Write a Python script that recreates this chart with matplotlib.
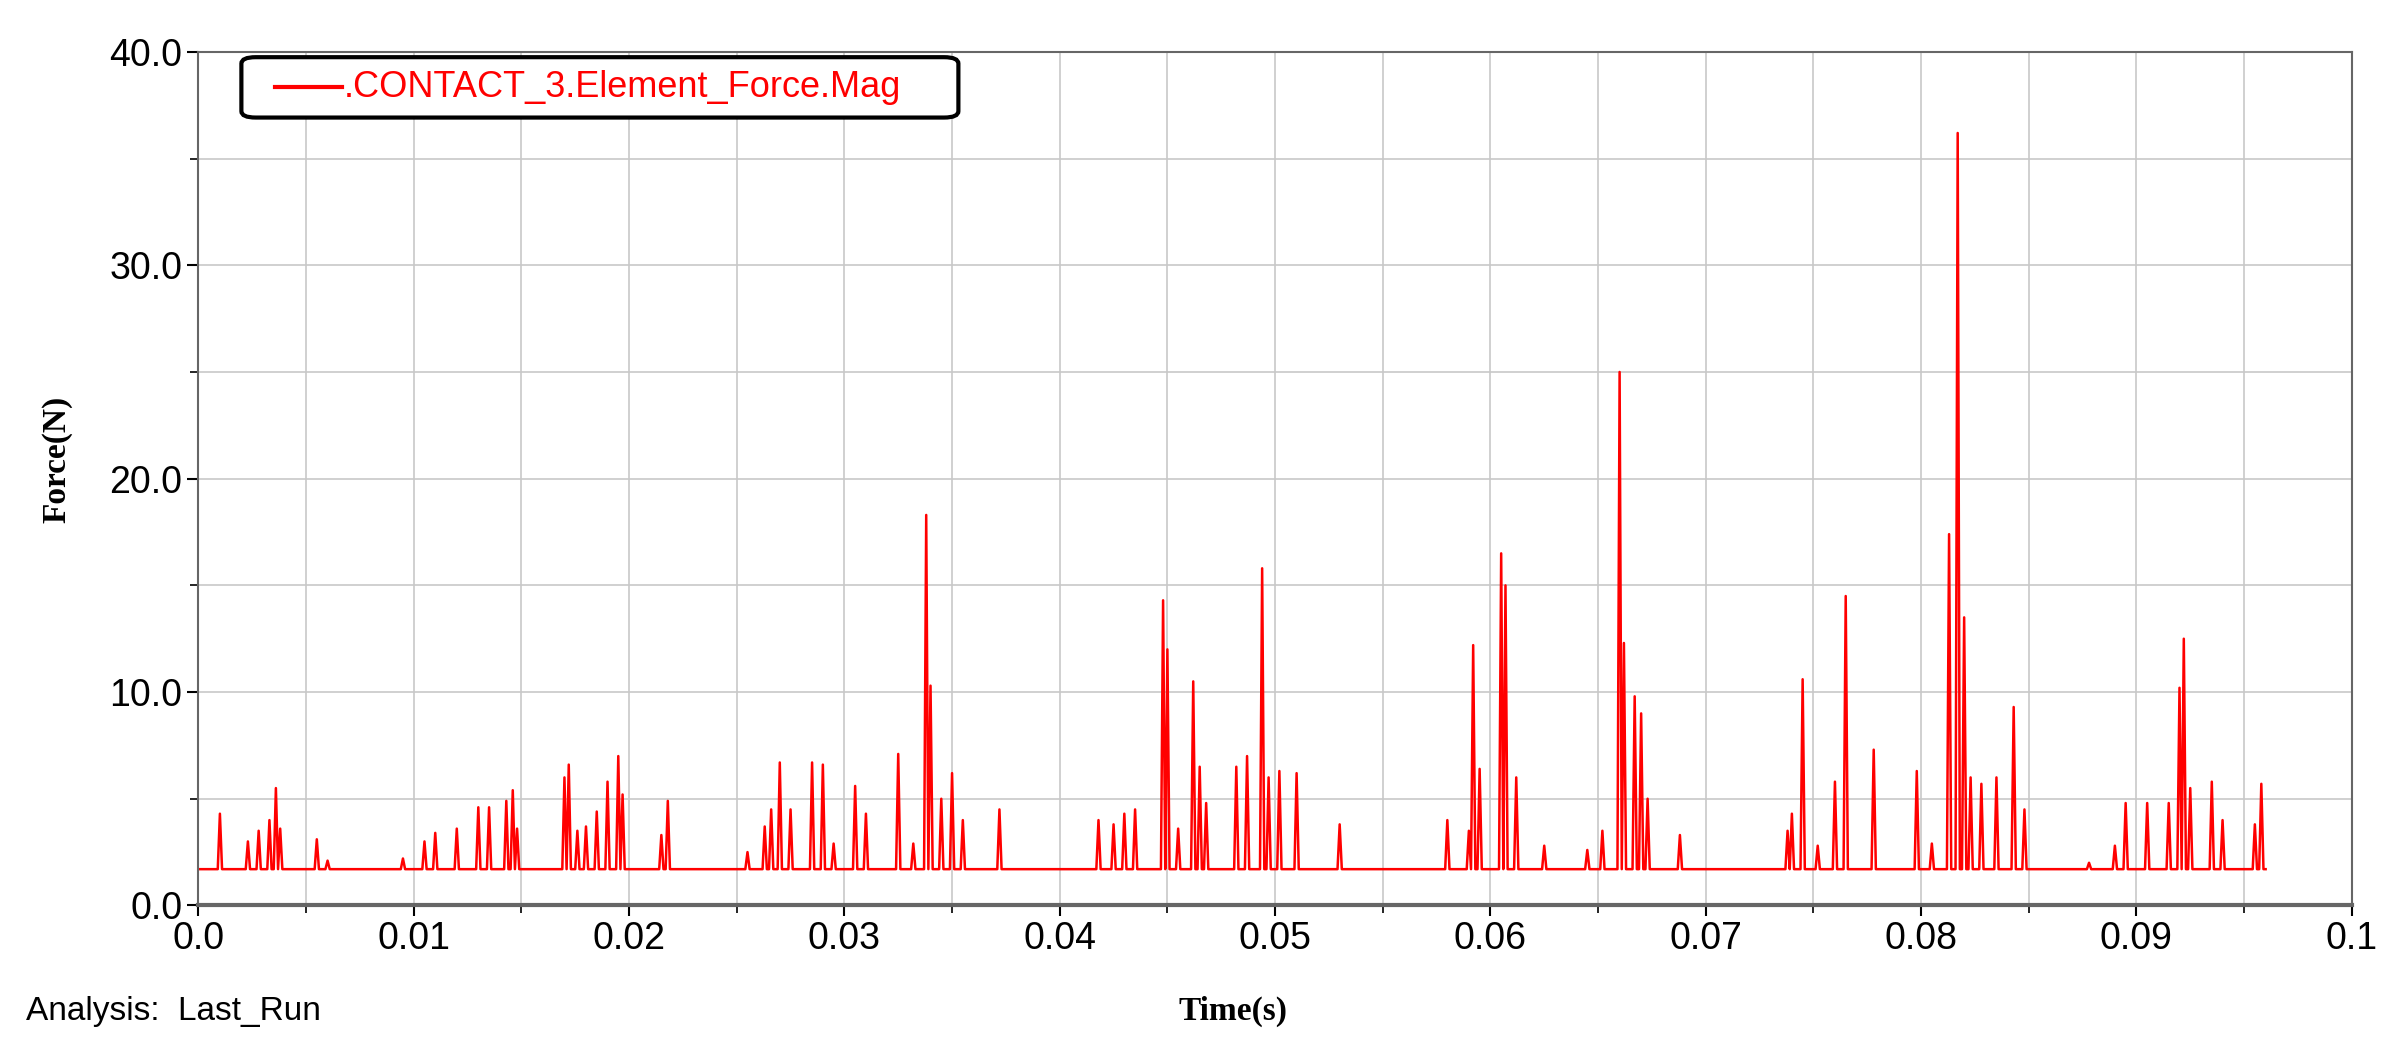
import numpy as np
import matplotlib.pyplot as plt
from matplotlib.ticker import MultipleLocator, FormatStrFormatter, FuncFormatter
from matplotlib.patches import FancyBboxPatch

# baseline contact force and spike (time, peak) pairs
baseline = 1.7
spike_t = [0.0010, 0.0023, 0.0028, 0.0033, 0.0036, 0.0038, 0.0055, 0.0060, 0.0095, 0.0105,
           0.0110, 0.0120, 0.0130, 0.0135, 0.0143, 0.0146, 0.0148, 0.0170, 0.0172, 0.0176,
           0.0180, 0.0185, 0.0190, 0.0195, 0.0197, 0.0215, 0.0218, 0.0255, 0.0263, 0.0266,
           0.0270, 0.0275, 0.0285, 0.0290, 0.0295, 0.0305, 0.0310, 0.0325, 0.0332, 0.0338,
           0.0340, 0.0345, 0.0350, 0.0355, 0.0372, 0.0418, 0.0425, 0.0430, 0.0435, 0.0448,
           0.0450, 0.0455, 0.0462, 0.0465, 0.0468, 0.0482, 0.0487, 0.0494, 0.0497, 0.0502,
           0.0510, 0.0530, 0.0580, 0.0590, 0.0592, 0.0595, 0.0605, 0.0607, 0.0612, 0.0625,
           0.0645, 0.0652, 0.0660, 0.0662, 0.0667, 0.0670, 0.0673, 0.0688, 0.0738, 0.0740,
           0.0745, 0.0752, 0.0760, 0.0765, 0.0778, 0.0798, 0.0805, 0.0813, 0.0817, 0.0820,
           0.0823, 0.0828, 0.0835, 0.0843, 0.0848, 0.0878, 0.0890, 0.0895, 0.0905, 0.0915,
           0.0920, 0.0922, 0.0925, 0.0935, 0.0940, 0.0955, 0.0958]
spike_f = [4.3, 3.0, 3.5, 4.0, 5.5, 3.6, 3.1, 2.1, 2.2, 3.0,
           3.4, 3.6, 4.6, 4.6, 4.9, 5.4, 3.6, 6.0, 6.6, 3.5,
           3.7, 4.4, 5.8, 7.0, 5.2, 3.3, 4.9, 2.5, 3.7, 4.5,
           6.7, 4.5, 6.7, 6.6, 2.9, 5.6, 4.3, 7.1, 2.9, 18.3,
           10.3, 5.0, 6.2, 4.0, 4.5, 4.0, 3.8, 4.3, 4.5, 14.3,
           12.0, 3.6, 10.5, 6.5, 4.8, 6.5, 7.0, 15.8, 6.0, 6.3,
           6.2, 3.8, 4.0, 3.5, 12.2, 6.4, 16.5, 15.0, 6.0, 2.8,
           2.6, 3.5, 25.0, 12.3, 9.8, 9.0, 5.0, 3.3, 3.5, 4.3,
           10.6, 2.8, 5.8, 14.5, 7.3, 6.3, 2.9, 17.4, 36.2, 13.5,
           6.0, 5.7, 6.0, 9.3, 4.5, 2.0, 2.8, 4.8, 4.8, 4.8,
           10.2, 12.5, 5.5, 5.8, 4.0, 3.8, 5.7]
t_end = 0.096

# build the trace: baseline, spike apex, baseline
half_w = 0.0001
ts, fs = [0.0], [baseline]
for t, f in zip(spike_t, spike_f):
    ts += [t - half_w, t, t + half_w]
    fs += [baseline, f, baseline]
ts.append(t_end)
fs.append(baseline)

plt.rcParams['font.family'] = ['Liberation Sans', 'DejaVu Sans']

fig = plt.figure(figsize=(23.9, 10.59), dpi=100)
ax = fig.add_axes([0.083, 0.145, 0.901, 0.806])
ax.plot(ts, fs, color='red', lw=1.8)

ax.set_xlim(0, 0.1)
ax.set_ylim(0, 40)
ax.xaxis.set_major_locator(MultipleLocator(0.01))
ax.xaxis.set_minor_locator(MultipleLocator(0.005))
ax.yaxis.set_major_locator(MultipleLocator(10))
ax.yaxis.set_minor_locator(MultipleLocator(5))
ax.yaxis.set_major_formatter(FormatStrFormatter('%.1f'))
ax.xaxis.set_major_formatter(FuncFormatter(lambda v, p: '0.0' if abs(v) < 1e-9 else f'{v:.2g}'))
ax.grid(True, which='both', color='#c8c8c8', lw=1.2)
ax.tick_params(which='major', labelsize=27, length=8, width=1.5, direction='out')
ax.tick_params(which='minor', length=6, width=1.2)
for s in ax.spines.values():
    s.set_color('#666666')
    s.set_linewidth(1.5)
ax.spines['bottom'].set_linewidth(3)

fig.text(0.024, 0.566, 'Force(N)', rotation=90, ha='center', va='center',
         family='Liberation Serif', fontweight='bold', fontsize=24)
fig.text(0.516, 0.045, 'Time(s)', ha='center', va='center',
         family='Liberation Serif', fontweight='bold', fontsize=24)
fig.text(0.011, 0.045, 'Analysis:  Last_Run', ha='left', va='center', fontsize=24)

# legend box
box = FancyBboxPatch((0.101, 0.889), 0.3, 0.057, boxstyle='round,pad=0,rounding_size=0.006',
                     transform=fig.transFigure, facecolor='white', edgecolor='black', lw=3,
                     zorder=5)
fig.patches.append(box)
fig.lines.append(plt.Line2D([0.115, 0.143], [0.9175, 0.9175], color='red', lw=3,
                            transform=fig.transFigure, zorder=6))
fig.text(0.144, 0.9175, '.CONTACT_3.Element_Force.Mag', color='red', fontsize=26,
         ha='left', va='center', zorder=6)

fig.savefig('out.png', dpi=100)
